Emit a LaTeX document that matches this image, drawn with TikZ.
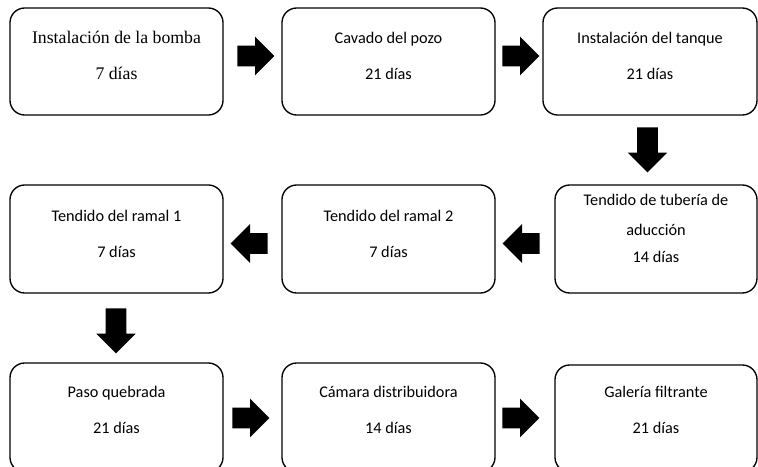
\documentclass[tikz,border=0pt]{standalone}
\usepackage{fontspec}
\setmainfont{Carlito}
\newfontfamily\timesfont{Liberation Serif}
\usetikzlibrary{shapes.arrows}
\tikzset{
  caja/.style={draw,line width=1pt,rounded corners=11pt,inner sep=0pt},
  texto/.style={align=center,inner sep=0pt,font=\fontsize{12.2}{14.6}\selectfont},
  flecha/.style={single arrow,fill=black,inner xsep=0pt,inner ysep=7.5pt,anchor=tail,
    minimum height=27.75pt,single arrow head extend=6.75pt},
  bajada/.style={flecha,shape border rotate=270,inner xsep=7.5pt,inner ysep=0pt,
    minimum height=33.75pt,single arrow head extend=7pt}
}
\begin{document}
\begin{tikzpicture}[x=0.75pt,y=-0.75pt]
			\useasboundingbox (0,0) rectangle (758,467);
			\clip (0,0) rectangle (758,467);
			% fila 1
			\draw[caja] (10,8) rectangle (223,115) node[midway] (b1) {};
			\draw[caja] (282,8) rectangle (495,115) node[midway] (b2) {};
			\draw[caja] (543,8) rectangle (757,115) node[midway] (b3) {};
			\node[texto,font=\fontsize{13.3}{16}\timesfont] (t1) at (116.5,55.5) {Instalación de la bomba\\[11pt]7 días};
			\node[texto] (t2) at (388.5,55.5) {Cavado del pozo\\[12.4pt]21 días};
			\node[texto] (t3) at (650,55.5) {Instalación del tanque\\[12.4pt]21 días};
			\node[flecha] (a12) at (237,56) {};
			\node[flecha] (a23) at (502,56) {};
			\node[bajada] (a34) at (647.5,127) {};
			% fila 2
			\draw[caja] (555,185) rectangle (757,293) node[midway] (b4) {};
			\draw[caja] (282,185) rectangle (495,293) node[midway] (b5) {};
			\draw[caja] (10,185) rectangle (223,293) node[midway] (b6) {};
			\node[texto] (t4) at (656,228.5) {Tendido de tubería de\\[7.9pt]aducción\\[5.6pt]14 días};
			\node[texto] (t5) at (388.5,233.5) {Tendido del ramal 2\\[12.4pt]7 días};
			\node[texto] (t6) at (116.5,233.5) {Tendido del ramal 1\\[12.4pt]7 días};
			\node[flecha,shape border rotate=180] (a45) at (540,243.5) {};
			\node[flecha,shape border rotate=180] (a56) at (268,243.5) {};
			\node[bajada] (a67) at (116,308) {};
			% fila 3
			\draw[caja] (10,363) rectangle (223,472) node[midway] (b7) {};
			\draw[caja] (282,363) rectangle (495,472) node[midway] (b8) {};
			\draw[caja] (555,365) rectangle (757,472) node[midway] (b9) {};
			\node[texto] (t7) at (116.5,410) {Paso quebrada\\[12.4pt]21 días};
			\node[texto] (t8) at (388.5,410) {Cámara distribuidora\\[12.4pt]14 días};
			\node[texto] (t9) at (656,410) {Galería filtrante\\[12.4pt]21 días};
			\node[flecha] (a78) at (232,418) {};
			\node[flecha] (a89) at (502,418) {};
\end{tikzpicture}
\end{document}
